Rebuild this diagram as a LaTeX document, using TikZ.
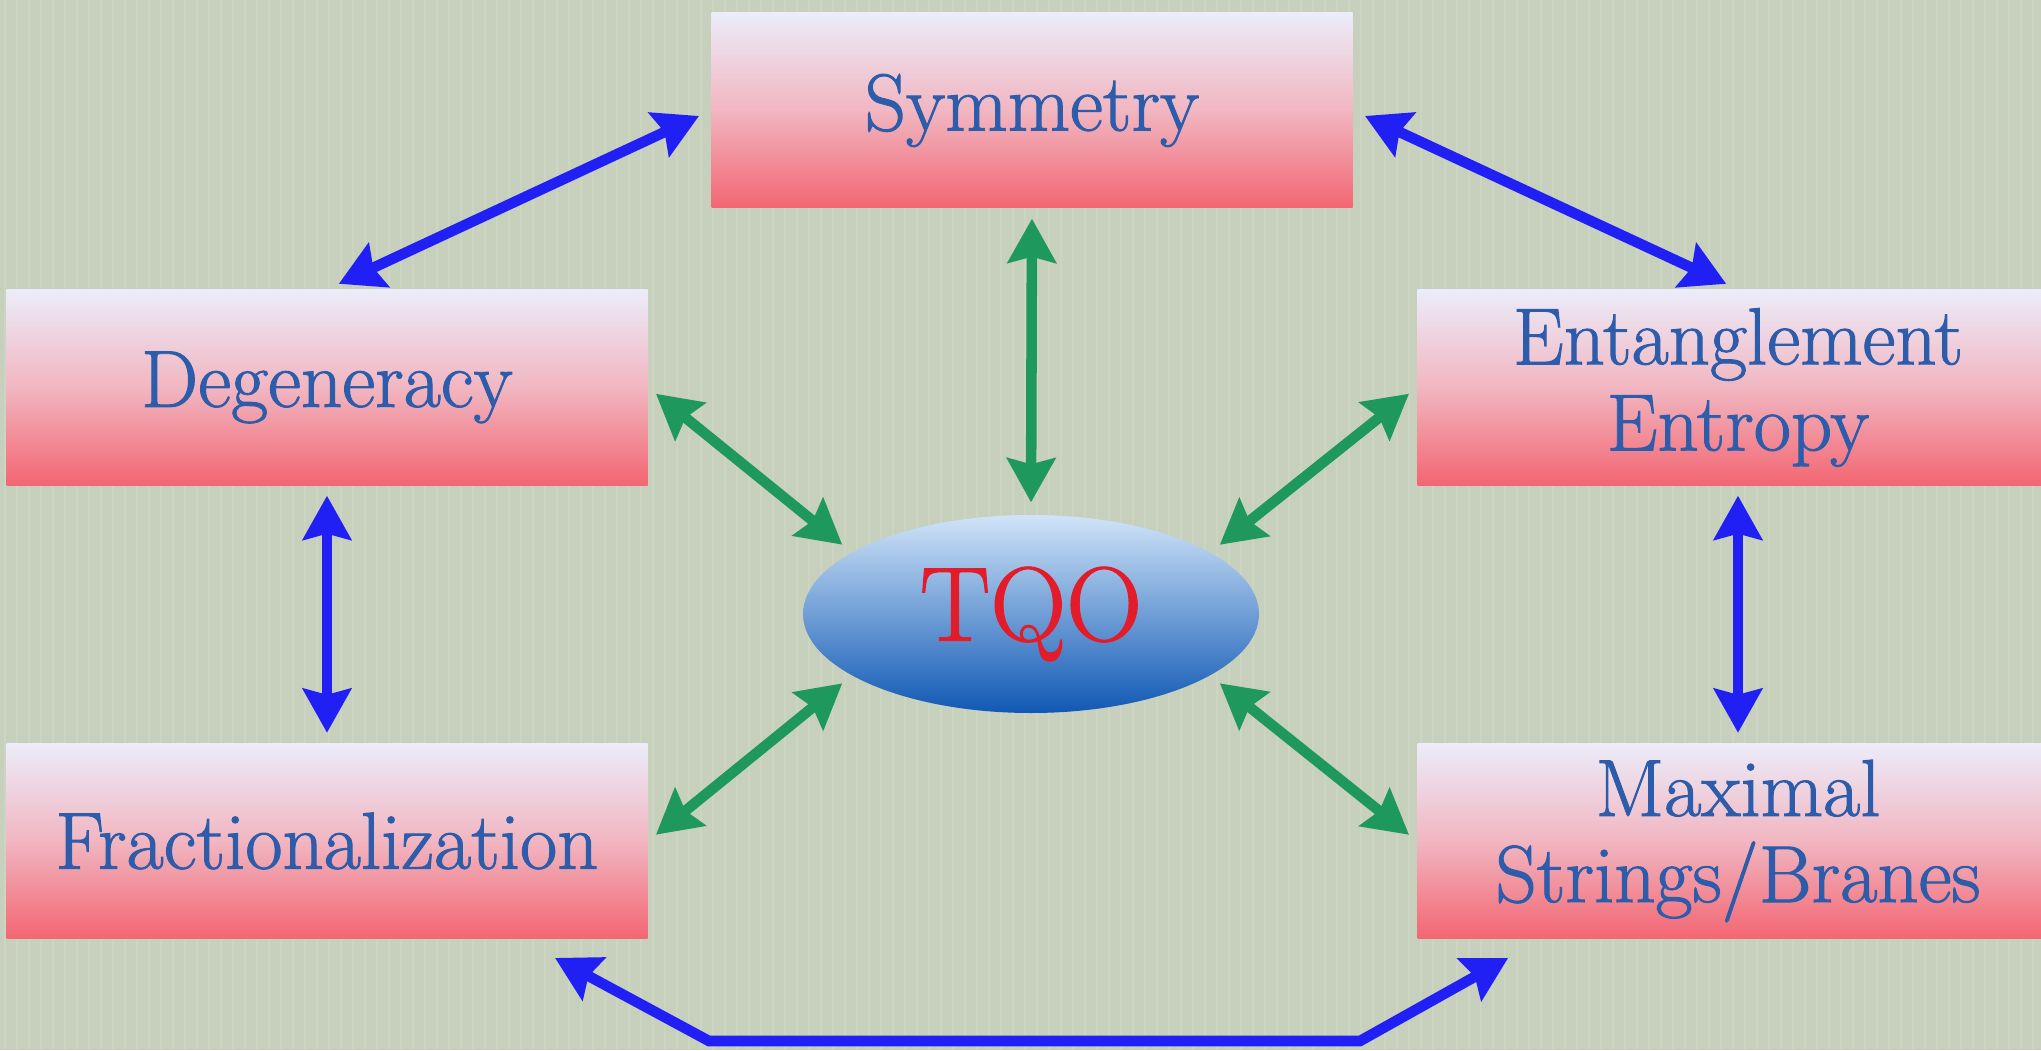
\documentclass[tikz,border=0pt]{standalone}
\usepackage{fontspec}
\usetikzlibrary{arrows.meta,shapes.geometric}
\newfontfamily\topicfont{Latin Modern Roman}[FakeBold=1.2]
\definecolor{sage}{RGB}{199,208,188}
\definecolor{boxtop}{RGB}{236,236,250}
\definecolor{boxmid}{RGB}{241,182,193}
\definecolor{boxbot}{RGB}{242,102,114}
\definecolor{labelblue}{RGB}{44,92,170}
\definecolor{tqored}{RGB}{226,28,40}
\definecolor{ovaltop}{RGB}{208,228,248}
\definecolor{ovalbot}{RGB}{16,88,180}
\definecolor{arrowblue}{RGB}{32,32,245}
\definecolor{arrowgreen}{RGB}{30,152,92}

\begin{document}
\begin{tikzpicture}[>={Stealth[length=0.44cm,width=0.48cm,inset=0.06cm]},
  topic/.style={rectangle,inner sep=0pt,minimum width=6.41cm,minimum height=1.95cm,
    top color=boxtop,bottom color=boxbot,middle color=boxmid,text=labelblue,
    align=center,font=\topicfont\fontsize{23}{24.5}\selectfont},
  blueline/.style={arrowblue,line width=3pt,<->,shorten >=0.1cm,shorten <=0.1cm},
  greenline/.style={arrowgreen,line width=3pt,<->,shorten >=0.12cm,shorten <=0.1cm}]
  \useasboundingbox (0,0) rectangle (20.41,10.5);
  \clip (0,0) rectangle (20.41,10.5);
  \fill[sage] (0,0) rectangle (20.41,10.5);
  \foreach \x in {0.05,0.17,...,20.4} \draw[white,opacity=0.10,line width=0.5pt] (\x,0) -- (\x,10.5);

  % boxes round the oval
  \node[topic] (sym) at (10.32,9.395) {Symmetry};
  \node[topic] (deg) at (3.27,6.625) {Degeneracy};
  \node[topic] (ent) at (17.38,6.625) {Entanglement\\Entropy};
  \node[topic] (frac) at (3.27,2.09) {Fractionalization};
  \node[topic] (max) at (17.38,2.09) {Maximal\\Strings/Branes};
  \node[ellipse,inner sep=0pt,minimum width=4.56cm,minimum height=1.98cm,
    top color=ovaltop,bottom color=ovalbot,text=tqored,
    font=\topicfont\fontsize{30}{32}\selectfont] (tqo) at (10.31,4.36) {TQO};

  % outer ring
  \draw[blueline,shorten >=0.13cm,shorten <=0.13cm] (sym.west) -- (deg.north);
  \draw[blueline,shorten >=0.13cm,shorten <=0.13cm] (sym.east) -- (ent.north);
  \draw[blueline] (deg.south) -- (frac.north);
  \draw[blueline] (ent.south) -- (max.north);
  \coordinate (botl) at (7.09,0.09);
  \coordinate (botr) at (13.60,0.09);
  \draw[blueline] ([xshift=-1.02cm,yshift=-0.14cm]frac.south east) -- (botl) -- (botr) -- ([xshift=1.0cm,yshift=-0.14cm]max.south west);

  % spokes to TQO
  \draw[greenline] (sym.south) -- (tqo.north);
  \draw[greenline] (deg.east) -- (tqo.161);
  \draw[greenline] (ent.west) -- (tqo.19);
  \draw[greenline] (frac.east) -- (tqo.199);
  \draw[greenline] (max.west) -- (tqo.341);
\end{tikzpicture}
\end{document}
